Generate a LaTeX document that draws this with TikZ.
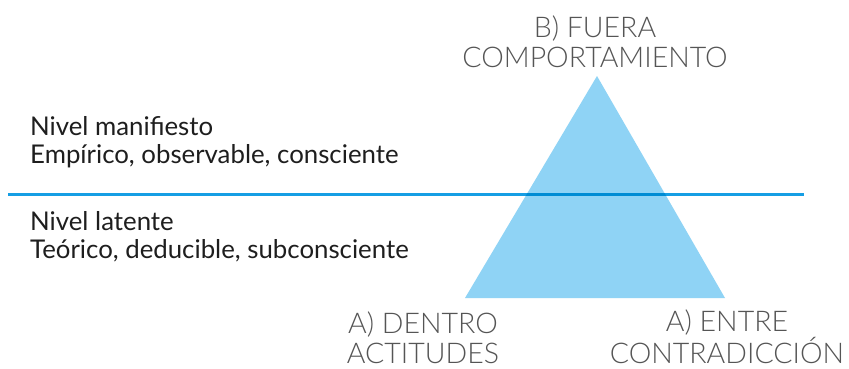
\documentclass[tikz,border=0pt]{standalone}
\usepackage{fontspec}
\setmainfont{Lato}
\newfontfamily\lightfont{Lato Light}
\definecolor{trifill}{RGB}{143,211,245}
\definecolor{linecol}{RGB}{22,158,228}
\definecolor{linedark}{RGB}{0,140,212}
\definecolor{labgray}{RGB}{85,85,85}
\definecolor{txtdark}{RGB}{30,30,30}
\begin{document}
\begin{tikzpicture}[x=1pt,y=-1pt,
  level/.style={anchor=base west,inner sep=0pt,font=\fontsize{25.8}{28}\selectfont,text=txtdark,align=left},
  corner/.style={anchor=base,inner sep=0pt,font=\lightfont\fontsize{28.5}{29.5}\selectfont,text=labgray,align=center}]
\useasboundingbox (0,0) rectangle (849,368);
\fill[white] (0,0) rectangle (849,368);
\coordinate (apex) at (597,76);
\coordinate (bl) at (465,298);
\coordinate (br) at (725,298);
\fill[trifill] (apex) -- (bl) -- (br) -- cycle;
\coordinate (ls) at (8,194);
\coordinate (le) at (804,194);
\draw[linecol,line width=3pt] (ls) -- (le);
\begin{scope}
  \clip (apex) -- (bl) -- (br) -- cycle;
  \draw[linedark,line width=3pt] (ls) -- (le);
\end{scope}
\node[level] (man) at (30,163) {Nivel manifiesto\\Empírico, observable, consciente};
\node[level] (lat) at (30,258) {Nivel latente\\Teórico, deducible, subconsciente};
\node[corner] (top) at (595,67) {B) FUERA\\COMPORTAMIENTO};
\node[corner] (left) at (423,363) {A) DENTRO\\ACTITUDES};
\node[corner] (right) at (727,363) {A) ENTRE\\CONTRADICCIÓN};
\end{tikzpicture}
\end{document}
